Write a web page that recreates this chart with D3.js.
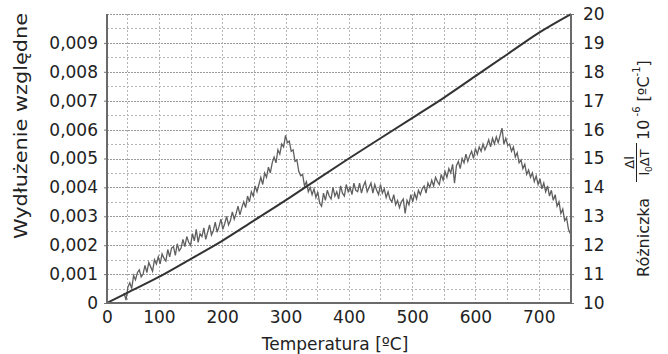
<!DOCTYPE html>
<html><head><meta charset="utf-8">
<script src="https://cdn.jsdelivr.net/npm/d3@7/dist/d3.min.js"></script>
<style>
body{margin:0;background:#fff;}
svg{display:block;font-family:"DejaVu Sans",Verdana,sans-serif;}
</style></head>
<body><svg id="c" width="668" height="354"></svg>
<script>
// ---- data ----
const tempMin = 18, tempMax = 751;
const xTickValues = [18, 100, 200, 300, 400, 500, 600, 700];
const xTickLabels = ["0", "100", "200", "300", "400", "500", "600", "700"];
const leftTickValues = [0, 0.001, 0.002, 0.003, 0.004, 0.005, 0.006, 0.007, 0.008, 0.009];
const leftTickLabels = ["0", "0,001", "0,002", "0,003", "0,004", "0,005", "0,006", "0,007", "0,008", "0,009"];
const rightTickValues = [10, 11, 12, 13, 14, 15, 16, 17, 18, 19, 20];
const rightTickLabels = ["10", "11", "12", "13", "14", "15", "16", "17", "18", "19", "20"];

// relative elongation (left axis)
const elongTemps = [18, 50, 100, 150, 200, 250, 300, 350, 400, 450, 500, 550, 600, 650, 700, 751];
const elongValues = [0, 0.00035, 0.0009, 0.00152, 0.00215, 0.00285, 0.00355, 0.00428, 0.0050, 0.0057, 0.0064, 0.0071, 0.00785, 0.0086, 0.00935, 0.0100];

// differential (right axis), sampled every 3 degC from 45 degC
const diffT0 = 45, diffStep = 3;
const diffValues = [
10.35,10.1,10.55,10.7,10.5,10.95,10.8,11.05,11.15,10.9,11.0,11.3,11.05,11.4,11.25,11.1,11.5,11.35,11.6,
11.35,11.7,11.55,11.45,11.85,11.6,11.9,11.95,11.65,12.05,11.8,11.9,12.2,11.95,12.3,12.1,12.0,12.4,12.15,12.55,
12.1,12.4,12.3,12.6,12.2,12.45,12.7,12.35,12.5,12.8,12.45,12.65,12.9,
12.55,12.75,13.0,12.7,12.85,13.15,12.9,13.1,13.35,13.05,13.3,13.5,13.3,13.7,13.5,13.85,13.7,14.05,13.85,14.1,
14.35,14.1,14.5,14.35,14.7,14.5,14.85,15.05,14.85,15.3,15.15,15.5,15.4,15.8,
15.55,15.6,15.25,15.3,14.9,14.95,14.55,14.4,14.45,14.05,14.2,13.85,14.0,13.75,13.95,13.65,13.85,13.45,13.35,13.8,
13.55,13.9,13.7,13.6,14.0,13.7,13.85,13.6,14.05,13.8,13.7,14.1,13.85,
14.0,13.75,14.15,13.9,13.85,14.15,13.8,14.05,14.2,13.85,14.0,14.15,13.8,14.1,13.9,13.75,14.1,13.8,13.95,13.65,
13.85,13.6,13.5,13.75,13.4,13.55,13.3,13.5,13.6,13.1,13.55,13.4,13.75,13.5,
13.8,13.6,13.9,13.75,13.95,14.05,13.8,14.15,14.0,14.25,14.05,14.35,14.2,14.1,14.45,14.25,14.55,14.35,14.65,14.5,
14.8,14.15,14.75,14.9,14.65,15.0,14.85,15.15,14.9,15.1,15.25,15.0,15.35,
15.15,15.4,15.25,15.5,15.3,15.45,15.65,15.4,15.7,15.5,15.75,15.55,15.8,16.05,15.5,15.7,15.45,15.5,15.25,15.4,
15.05,15.2,14.85,14.95,14.65,14.8,14.45,14.6,14.35,14.5,14.2,14.4,14.1,
14.3,13.95,14.15,13.85,14.05,13.7,13.9,13.55,13.75,13.35,13.5,13.1,13.25,12.85,12.95,12.55,12.4
];

// ---- layout ----
const svg = d3.select("#c");
svg.append("rect").attr("width", 668).attr("height", 354).attr("fill", "#fff");
const L = 107, R = 571, T = 14, B = 303;
const x = d3.scaleLinear().domain([tempMin, tempMax]).range([L, R]);
const yL = d3.scaleLinear().domain([0, 0.010]).range([B, T]);
const yR = d3.scaleLinear().domain([10, 20]).range([B, T]);

// grid
const g = svg.append("g");
const hGrid = d3.range(1, 21).map(i => i * 0.0005);
g.selectAll("line.h").data(hGrid).join("line")
  .attr("x1", L).attr("x2", R)
  .attr("y1", d => Math.round(yL(d)) + 0.5).attr("y2", d => Math.round(yL(d)) + 0.5)
  .attr("stroke", (d, i) => (i % 2 === 1) ? "#9a9a9a" : "#b5b5b5")
  .attr("stroke-dasharray", (d, i) => (i % 2 === 1) ? "2,1" : "2,2")
  .attr("stroke-width", 1);
const vGrid = d3.range(50, 750, 50);
g.selectAll("line.v").data(vGrid).join("line")
  .attr("y1", T).attr("y2", B)
  .attr("x1", d => Math.round(x(d)) + 0.5).attr("x2", d => Math.round(x(d)) + 0.5)
  .attr("stroke", "#b5b5b5").attr("stroke-dasharray", "2,2").attr("stroke-width", 1);

// noisy differential line
const diffData = diffValues.map((v, i) => [diffT0 + i * diffStep, v]);
svg.append("path").datum(diffData)
  .attr("fill", "none").attr("stroke", "#5f5f5f").attr("stroke-width", 1.3)
  .attr("d", d3.line().x(d => x(d[0])).y(d => yR(d[1])));

// elongation line
const elongData = elongTemps.map((t, i) => [t, elongValues[i]]);
svg.append("path").datum(elongData)
  .attr("fill", "none").attr("stroke", "#333").attr("stroke-width", 2)
  .attr("d", d3.line().curve(d3.curveMonotoneX).x(d => x(d[0])).y(d => yL(d[1])));

// axes
const fs = "17px";
const axL = svg.append("g").attr("transform", `translate(${L},0)`)
  .call(d3.axisLeft(yL).tickValues(leftTickValues).tickFormat((d, i) => leftTickLabels[i]).tickSize(3).tickPadding(6));
const axR = svg.append("g").attr("transform", `translate(${R},0)`)
  .call(d3.axisRight(yR).tickValues(rightTickValues).tickFormat((d, i) => rightTickLabels[i]).tickSize(3).tickPadding(9));
const axB = svg.append("g").attr("transform", `translate(0,${B})`)
  .call(d3.axisBottom(x).tickValues(xTickValues).tickFormat((d, i) => xTickLabels[i]).tickSize(0).tickPadding(8));
[axL, axR, axB].forEach(a => {
  a.select(".domain").remove();
  a.selectAll("line").attr("stroke", "#777");
  a.selectAll("text").attr("font-size", fs).attr("fill", "#222")
   .attr("font-family", '"DejaVu Sans",Verdana,sans-serif');
});
// frame lines
svg.append("line").attr("x1", L).attr("x2", L).attr("y1", T).attr("y2", B + 1).attr("stroke", "#6a6a6a").attr("stroke-width", 2);
svg.append("line").attr("x1", R).attr("x2", R).attr("y1", T).attr("y2", B + 1).attr("stroke", "#6a6a6a").attr("stroke-width", 2);
svg.append("line").attr("x1", L - 1).attr("x2", R + 1).attr("y1", B).attr("y2", B).attr("stroke", "#6a6a6a").attr("stroke-width", 2);

// titles
svg.append("text").attr("x", 335).attr("y", 350).attr("text-anchor", "middle")
  .attr("font-size", "17px").attr("fill", "#222").text("Temperatura [ºC]");
svg.append("text").attr("transform", "translate(27,126) rotate(-90)").attr("text-anchor", "middle")
  .attr("font-size", "18px").attr("fill", "#222")
  .attr("textLength", 226).attr("lengthAdjust", "spacingAndGlyphs").text("Wydłużenie względne");

// right title with fraction (rotated group; x runs upward from y=277)
const rt = svg.append("g").attr("transform", "translate(649,277) rotate(-90)").attr("fill", "#222");
rt.append("text").attr("x", 0).attr("y", 0).attr("font-size", "16px").text("Różniczka");
rt.append("text").attr("x", 114.5).attr("y", -15).attr("font-size", "13px").attr("text-anchor", "middle").text("Δl");
const den = rt.append("text").attr("x", 114.5).attr("y", 0).attr("font-size", "13px").attr("text-anchor", "middle");
den.append("tspan").text("l");
den.append("tspan").attr("font-size", "9px").attr("dy", 3).text("0");
den.append("tspan").attr("dy", -3).text("ΔT");
rt.append("line").attr("x1", 95).attr("x2", 134).attr("y1", -12.5).attr("y2", -12.5).attr("stroke", "#222").attr("stroke-width", 1);
const t2 = rt.append("text").attr("x", 137).attr("y", 0).attr("font-size", "16px");
t2.append("tspan").text("10");
t2.append("tspan").attr("font-size", "10px").attr("dy", -9).text(" -6");
t2.append("tspan").attr("dy", 9).text(" [ºC");
t2.append("tspan").attr("font-size", "10px").attr("dy", -9).text("-1");
t2.append("tspan").attr("dy", 9).text("]");
</script></body></html>
